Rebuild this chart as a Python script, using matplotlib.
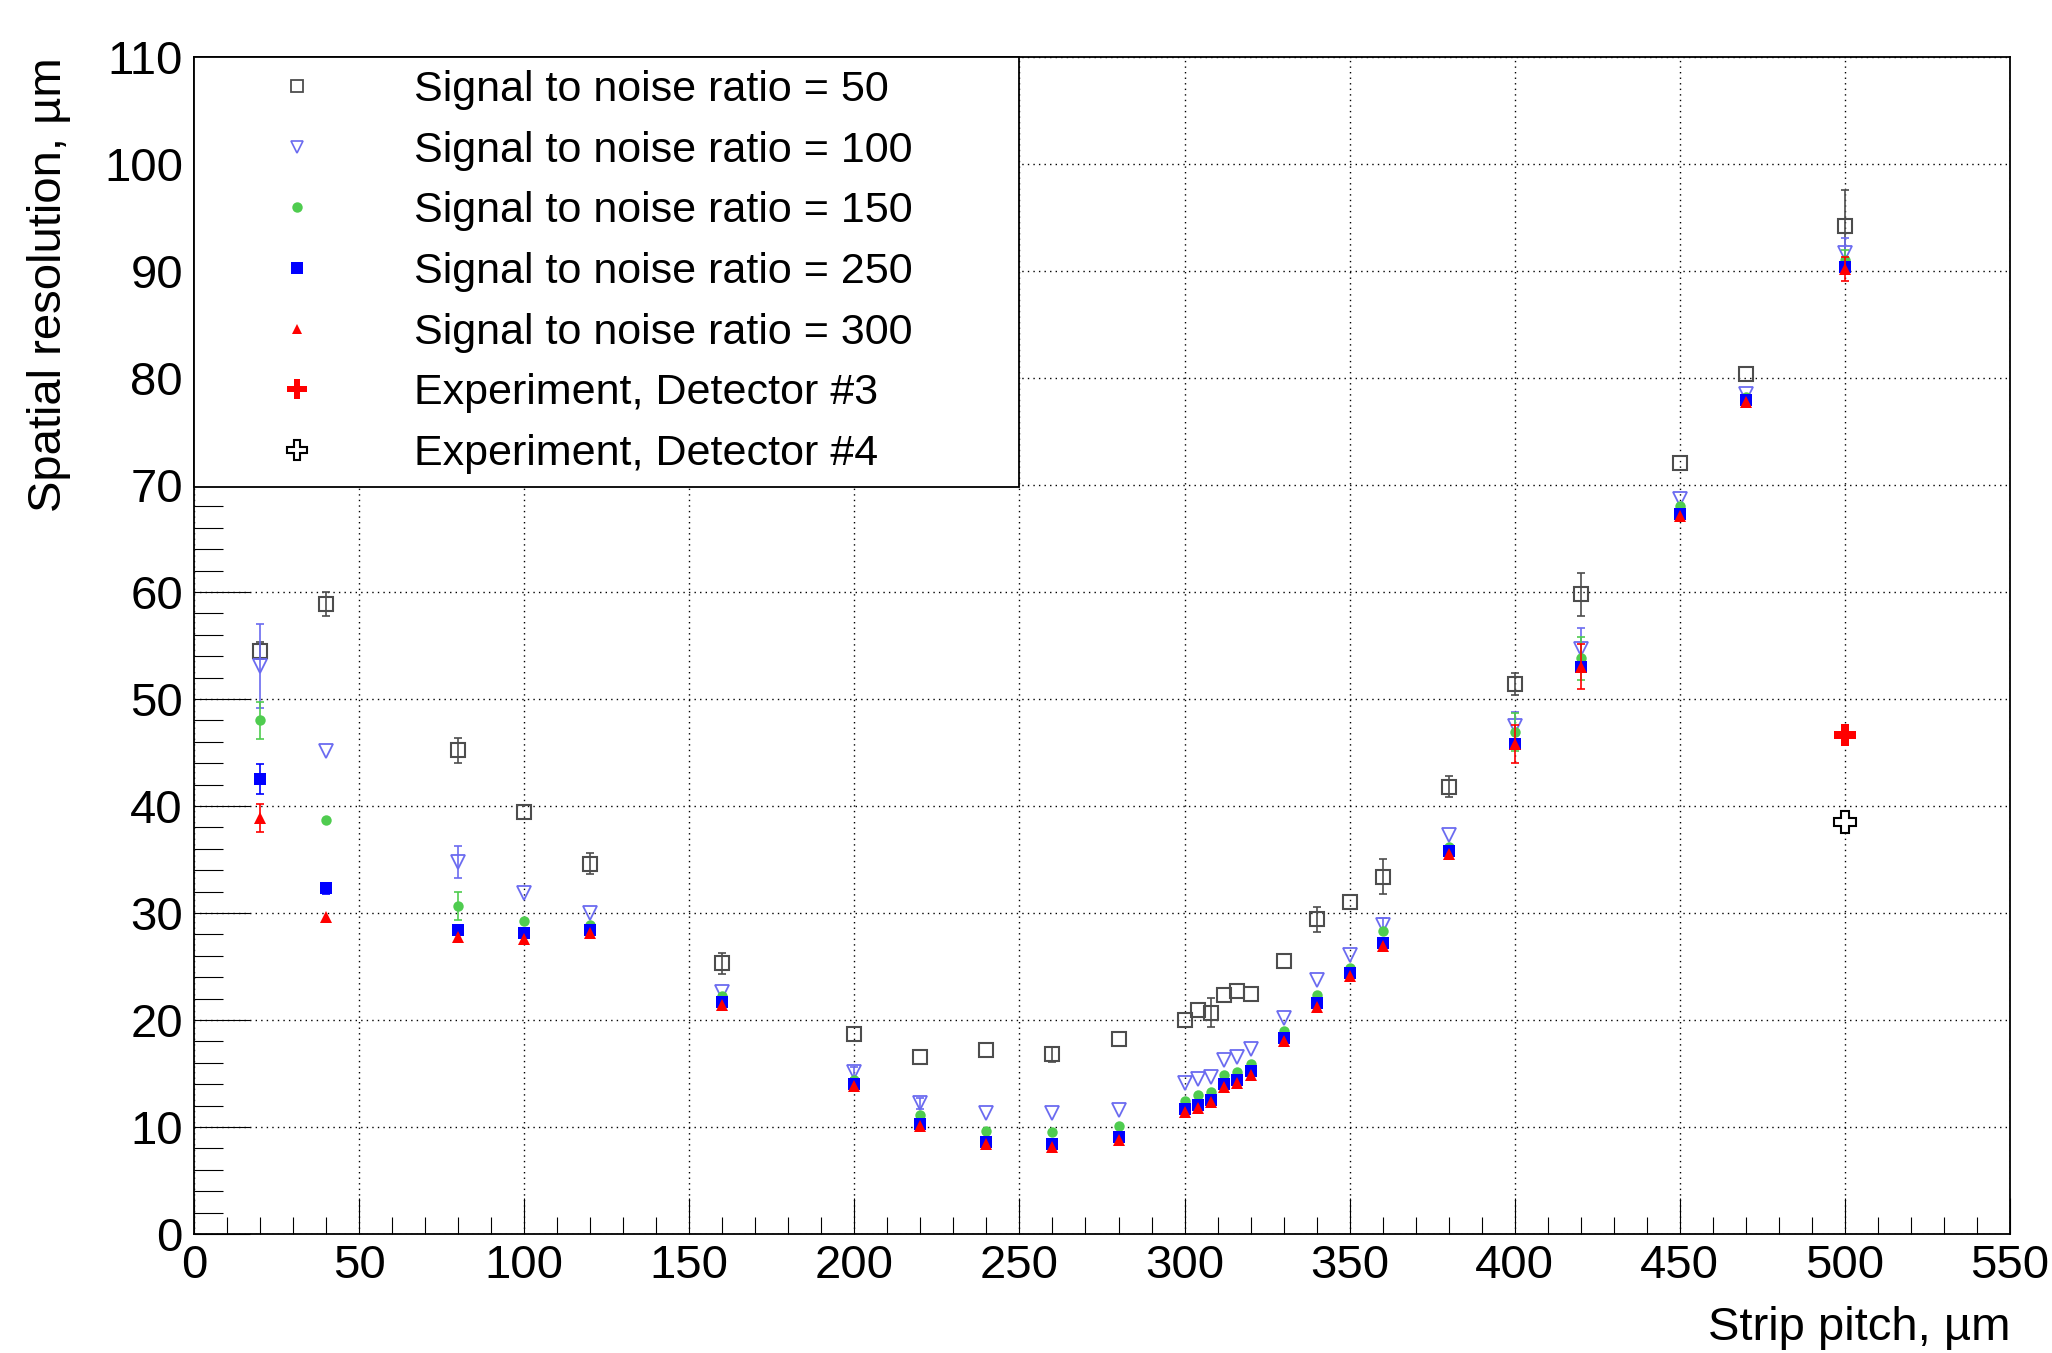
import matplotlib
matplotlib.use("Agg")
import matplotlib.pyplot as plt
from matplotlib.lines import Line2D
from matplotlib.ticker import MultipleLocator

plt.rcParams['font.family'] = ['Liberation Sans', 'DejaVu Sans']

# strip pitch, um
pitch = [20, 40, 80, 100, 120, 160, 200, 220, 240, 260, 280, 300, 304, 308, 312,
         316, 320, 330, 340, 350, 360, 380, 400, 420, 450, 470, 500]

# spatial resolution, um (errors of 0 are hidden under the marker in the original)
snr50 = [54.5, 58.9, 45.2, 39.4, 34.6, 25.3, 18.7, 16.5, 17.2, 16.8, 18.2, 20.0, 20.9, 20.7,
         22.3, 22.7, 22.4, 25.5, 29.4, 31.0, 33.4, 41.8, 51.4, 59.8, 72.1, 80.4, 94.2]
snr50_err = [0.8, 1.1, 1.2, 0, 1.0, 1.0, 0, 0, 0, 0.7, 0, 0, 0, 1.4,
             0, 0, 0, 0, 1.2, 0, 1.65, 1.0, 1.0, 2.0, 0, 0, 3.4]

snr100 = [53.1, 45.1, 34.8, 31.9, 30.0, 22.6, 15.1, 12.2, 11.3, 11.3, 11.6, 14.1, 14.5, 14.7,
          16.3, 16.5, 17.3, 20.2, 23.7, 26.1, 28.9, 37.3, 47.5, 54.7, 68.7, 78.5, 91.7]
snr100_err = [3.9, 0, 1.5, 0, 0, 0, 0.5, 0.5, 0, 0, 0, 0, 0, 0,
              0, 0, 0, 0, 0, 0, 0.6, 0, 1.3, 1.9, 0, 0, 1.4]

snr150 = [48.0, 38.7, 30.65, 29.25, 28.9, 22.2, 14.4, 11.1, 9.6, 9.55, 10.05, 12.4, 13.0, 13.3,
          14.9, 15.1, 15.9, 19.0, 22.3, 24.9, 28.3, 36.2, 46.9, 53.8, 68.0, 78.2, 91.0]
snr150_err = [1.7, 0, 1.3, 0, 0, 0, 0, 0, 0, 0, 0, 0, 0, 0,
              0, 0, 0, 0, 0, 0, 0, 0, 1.8, 2.0, 0, 0, 1.0]

snr250 = [42.5, 32.3, 28.4, 28.1, 28.4, 21.7, 14.0, 10.3, 8.6, 8.4, 9.1, 11.7, 12.1, 12.5,
          14.0, 14.4, 15.2, 18.3, 21.6, 24.4, 27.2, 35.8, 45.8, 53.0, 67.3, 77.9, 90.35]
snr250_err = [1.4, 0.5, 0, 0, 0, 0, 0, 0, 0, 0, 0, 0, 0, 0,
              0, 0, 0, 0, 0, 0, 0, 0, 0, 0, 0, 0, 0]

snr300 = [38.9, 29.6, 27.8, 27.6, 28.1, 21.4, 13.8, 10.1, 8.4, 8.15, 8.8, 11.4, 11.8, 12.3,
          13.7, 14.1, 14.9, 18.0, 21.2, 24.1, 26.9, 35.5, 45.8, 53.0, 67.1, 77.8, 90.2]
snr300_err = [1.3, 0, 0, 0, 0, 0, 0, 0, 0, 0, 0, 0, 0, 0,
              0, 0, 0, 0, 0, 0, 0, 0, 1.8, 2.1, 0, 0, 1.1]

exp_pitch = [500]
det3 = [46.6]
det4 = [38.5]

labels = ["Signal to noise ratio = 50", "Signal to noise ratio = 100",
          "Signal to noise ratio = 150", "Signal to noise ratio = 250",
          "Signal to noise ratio = 300", "Experiment, Detector #3",
          "Experiment, Detector #4"]

gray = '#4d4d4d'
violet = '#6b6bf0'
green = '#4fcc4f'
blue = '#0000ff'
red = '#ff0000'

fig = plt.figure(figsize=(20.52, 13.53), dpi=100)
ax = fig.add_axes([194/2052, 1 - 1234/1353, (2010-194)/2052, (1234-57)/1353])

series = [
    (snr50, snr50_err, dict(marker='s', ms=9.5, mfc='none', mec=gray, mew=1.5), gray),
    (snr100, snr100_err, dict(marker='v', ms=10, mfc='none', mec=violet, mew=1.3), violet),
    (snr150, snr150_err, dict(marker='o', ms=7.5, mfc=green, mec=green, mew=0), green),
    (snr250, snr250_err, dict(marker='s', ms=8.5, mfc=blue, mec=blue, mew=0), blue),
    (snr300, snr300_err, dict(marker='^', ms=8, mfc=red, mec=red, mew=0), red),
]
for i, (vals, err, mk, col) in enumerate(series):
    ax.plot(pitch, vals, ls='none', zorder=3 + i, **mk)
    ex = [p for p, e in zip(pitch, err) if e > 0]
    ey = [v for v, e in zip(vals, err) if e > 0]
    ee = [e for e in err if e > 0]
    ax.errorbar(ex, ey, yerr=ee, fmt='none', ecolor=col, elinewidth=1.2,
                capsize=3, capthick=1.2, zorder=3 + i)

ax.plot(exp_pitch, det3, ls='none', marker='P', ms=16, mfc=red, mec=red, mew=0, zorder=9)
ax.plot(exp_pitch, det4, ls='none', marker='P', ms=16, mfc='white', mec='black', mew=1.5, zorder=9)

ax.set_xlim(0, 550)
ax.set_ylim(0, 110)
ax.xaxis.set_major_locator(MultipleLocator(50))
ax.xaxis.set_minor_locator(MultipleLocator(10))
ax.yaxis.set_major_locator(MultipleLocator(10))
ax.yaxis.set_minor_locator(MultipleLocator(2))

ax.tick_params(axis='x', which='major', direction='in', length=26, width=0.8, labelsize=34, pad=7)
ax.tick_params(axis='x', which='minor', direction='in', length=12, width=0.8)
ax.tick_params(axis='y', which='major', direction='in', length=40, width=0.8, labelsize=34, pad=8)
ax.tick_params(axis='y', which='minor', direction='in', length=21, width=0.8)

ax.grid(True, which='major', color='black', linestyle=(0, (1, 3)), lw=1.0)
ax.set_axisbelow(True)
for s in ax.spines.values():
    s.set_linewidth(1.3)

ax.set_xlabel("Strip pitch, µm", fontsize=34, loc='right', labelpad=13)
ax.set_ylabel("Spatial resolution, µm", fontsize=34, loc='top', labelpad=24)

handles = [
    Line2D([], [], ls='none', marker='s', ms=8, mfc='none', mec=gray, mew=1.3),
    Line2D([], [], ls='none', marker='v', ms=9, mfc='none', mec=violet, mew=1.2),
    Line2D([], [], ls='none', marker='o', ms=7.5, mfc=green, mec=green, mew=0),
    Line2D([], [], ls='none', marker='s', ms=8, mfc=blue, mec=blue, mew=0),
    Line2D([], [], ls='none', marker='^', ms=7.5, mfc=red, mec=red, mew=0),
    Line2D([], [], ls='none', marker='P', ms=15, mfc=red, mec=red, mew=0),
    Line2D([], [], ls='none', marker='P', ms=15, mfc='white', mec='black', mew=1.5),
]
leg = ax.legend(handles, labels, loc='upper left', bbox_to_anchor=(0, 0, 0.4543, 1),
                mode='expand', borderaxespad=0, fontsize=31, fancybox=False,
                framealpha=1, edgecolor='black', borderpad=0.3, labelspacing=0.48,
                handlelength=4.2, handletextpad=0.6)
leg.get_frame().set_linewidth(1.3)
leg.set_zorder(20)

fig.savefig("out.png", dpi=100)
